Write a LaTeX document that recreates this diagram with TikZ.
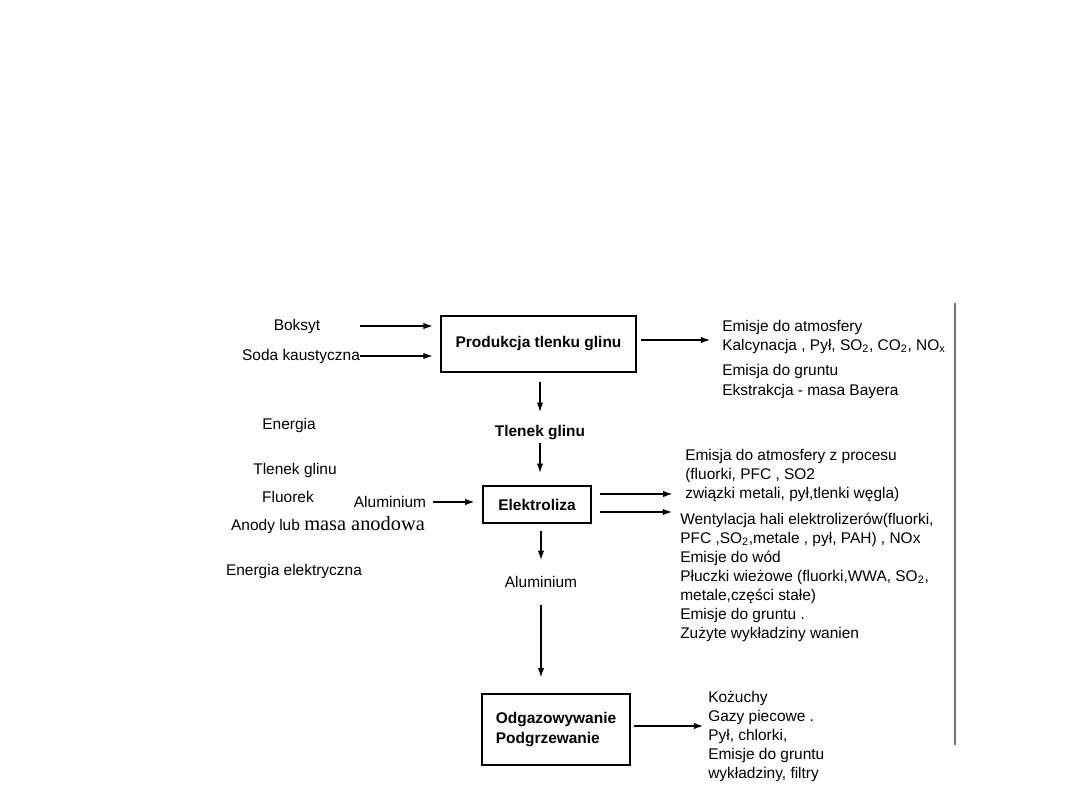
\documentclass[tikz,border=0pt]{standalone}
\usepackage{fontspec}
\setmainfont{Liberation Sans}
\newfontfamily\anodefont{Liberation Serif}
\usetikzlibrary{arrows.meta, calc}
\tikzset{
  flow/.style={-{Latex[length=6.5pt,width=4.5pt]}, line width=0.8pt},
  stage/.style={draw, line width=0.9pt, inner sep=0pt, font=\fontsize{11}{14}\selectfont\bfseries},
  lbl/.style={inner sep=0pt, font=\fontsize{11}{13.5}\selectfont},
  outlist/.style={lbl, align=left, anchor=north west},
}

\begin{document}
\begin{tikzpicture}[x=0.025cm, y=-0.025cm]
\useasboundingbox (0,0) rectangle (1080,810);
\node[stage, minimum width=4.875cm, minimum height=1.4cm] (prod) at (538.5,344) {Produkcja tlenku glinu};
\node[stage, minimum width=2.7cm, minimum height=0.925cm] (elek) at (537,504.5) {Elektroliza};
\node[stage, minimum width=3.7cm, minimum height=1.775cm, align=left] (odg) at (556,729.5) {Odgazowywanie\\Podgrzewanie};

\node[lbl] (boksyt) at (297,326) {Boksyt};
\node[lbl] (soda) at (301,356) {Soda kaustyczna};
\node[lbl, font=\fontsize{11}{14}\selectfont\bfseries] (tlenek) at (540,433) {Tlenek glinu};
\node[lbl] (alu) at (541,582) {Aluminium};
\node[lbl] (alin) at (390,502) {Aluminium};
\node[lbl] (energia) at (289,425) {Energia};
\node[lbl] (tlenekin) at (295,470) {Tlenek glinu};
\node[lbl] (fluorek) at (288,497) {Fluorek};
\node[lbl] (anody) at (328,525) {Anody lub {\anodefont\fontsize{14.5}{16}\selectfont masa anodowa}};
\node[lbl] (enel) at (294,571) {Energia elektryczna};

\node[outlist] (emprod) at (722,320) {Emisje do atmosfery\\Kalcynacja , Pył, SO\textsubscript{2}, CO\textsubscript{2}, NO\textsubscript{x}\\[4pt]Emisja do gruntu\\[1pt]Ekstrakcja - masa Bayera};
\node[outlist] (emel) at (685,449) {Emisja do atmosfery z procesu\\(fluorki, PFC , SO2\\związki metali, pył,tlenki węgla)};
\node[outlist] (wentyl) at (680,513) {Wentylacja hali elektrolizerów(fluorki,\\PFC ,SO\textsubscript{2},metale , pył, PAH) , NOx\\Emisje do wód\\Płuczki wieżowe (fluorki,WWA, SO\textsubscript{2},\\metale,części stałe)\\Emisje do gruntu .\\Zużyte wykładziny wanien};
\node[outlist] (emodg) at (708,691) {Kożuchy\\Gazy piecowe .\\Pył, chlorki,\\Emisje do gruntu\\wykładziny, filtry};

\coordinate (prodout) at ($(prod.east)+(4,-4)$);
\coordinate (elout1) at ($(elek.east)+(8,-10.5)$);
\coordinate (elout2) at ($(elek.east)+(8,7.5)$);
\coordinate (odgout) at ($(odg.east)+(3,-3.5)$);

\draw[flow, shorten >=5.5pt] (boksyt -| soda.east) -- (boksyt -| prod.west);
\draw[flow, shorten >=5.5pt] (soda.east) -- (soda -| prod.west);
\draw[flow, shorten >=8.5pt] (prodout) -- (prodout -| emprod.west);
\draw[flow, shorten <=7pt, shorten >=9.7pt] (tlenek.north |- prod.south) -- (tlenek.north);
\draw[flow, shorten <=1.5pt, shorten >=9pt] (tlenek.south) -- (tlenek.south |- elek.north);
\draw[flow, shorten <=5pt, shorten >=5.7pt] (alin.east) -- (alin -| elek.west);
\draw[flow, shorten >=9pt] (elout1) -- (elout1 -| emel.west);
\draw[flow, shorten >=5.7pt] (elout2) -- (elout2 -| wentyl.west);
\draw[flow, shorten <=5pt, shorten >=11.5pt] (elek.south -| alu.south) -- (alu.north);
\draw[flow, shorten <=12pt, shorten >=11.5pt] (alu.south) -- (alu.south |- odg.north);
\draw[flow, shorten >=3.5pt] (odgout) -- (odgout -| emodg.west);

\draw[black!55, line width=1pt] (955,303) -- (955,745);
\end{tikzpicture}
\end{document}
